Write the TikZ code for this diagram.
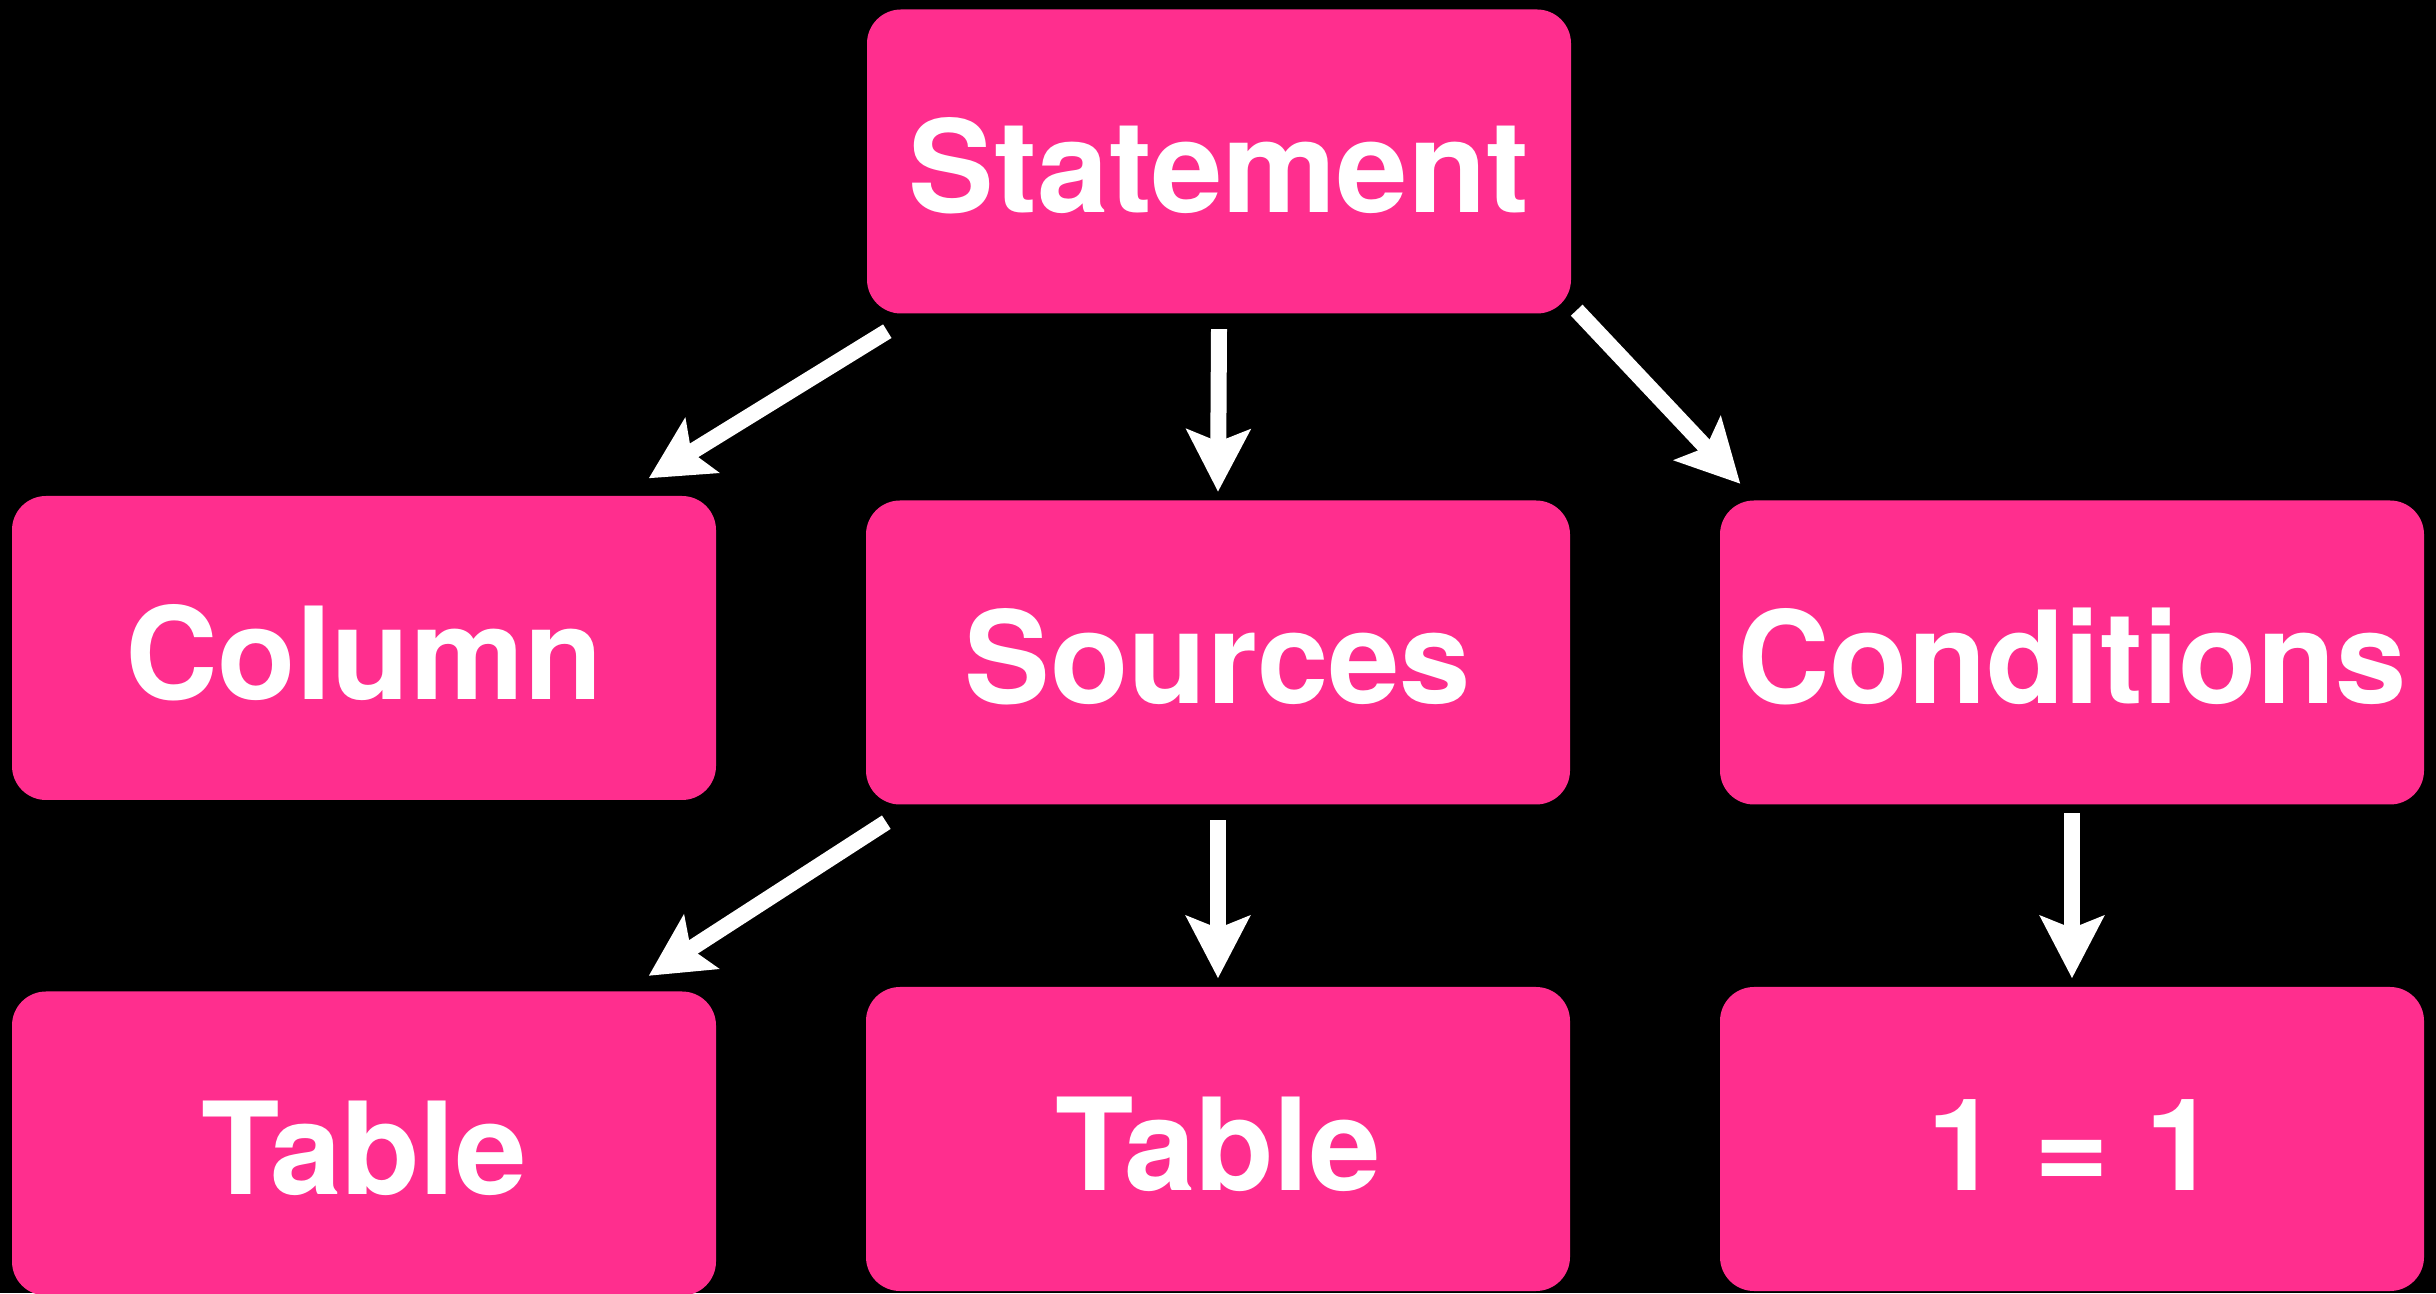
\documentclass[tikz,border=0pt]{standalone}
\usepackage{xcolor}
\usepackage{fontspec}
\setmainfont{TeX Gyre Heros}
\usetikzlibrary{arrows.meta}

\definecolor{boxpink}{RGB}{255,46,142}

\tikzset{
  box/.style={fill=boxpink,rounded corners=0.34cm,minimum width=7.04cm,minimum height=3.04cm,
    inner sep=0pt,text height=1.03cm,text depth=0pt,text=white,
    font=\fontsize{36.5}{40}\selectfont\bfseries},
  arr/.style={draw=white,line width=0.16cm,
    -{Stealth[length=0.62cm,width=0.63cm,inset=0.12cm]}}
}

\begin{document}
\begin{tikzpicture}
  \fill[black] (0,0) rectangle (24.36,12.93);
  \useasboundingbox (0,0) rectangle (24.36,12.93);
  \foreach \name/\x/\y/\txt in {stmt/12.19/11.315/Statement,
      col/3.64/6.45/Column, src/12.18/6.405/Sources, cond/20.72/6.405/Conditions,
      tabA/3.64/1.495/Table, tabB/12.18/1.54/Table, one/20.72/1.54/1 = 1}{
    \node[box] (\name) at (\x,\y) {\txt};
  }
  \draw[arr] ([shift={(0.21,-0.17)}]stmt.south west) -- ([shift={(-0.68,0.17)}]col.north east);
  \draw[arr] ([yshift=-0.15cm]stmt.south) -- ([yshift=0.08cm]src.north);
  \draw[arr] ([shift={(0.05,0.04)}]stmt.south east) -- ([shift={(0.21,0.16)}]cond.north west);
  \draw[arr] ([shift={(0.21,-0.17)}]src.south west) -- ([shift={(-0.68,0.15)}]tabA.north east);
  \draw[arr] ([yshift=-0.15cm]src.south) -- ([yshift=0.08cm]tabB.north);
  \draw[arr] ([yshift=-0.08cm]cond.south) -- ([yshift=0.08cm]one.north);
\end{tikzpicture}
\end{document}
